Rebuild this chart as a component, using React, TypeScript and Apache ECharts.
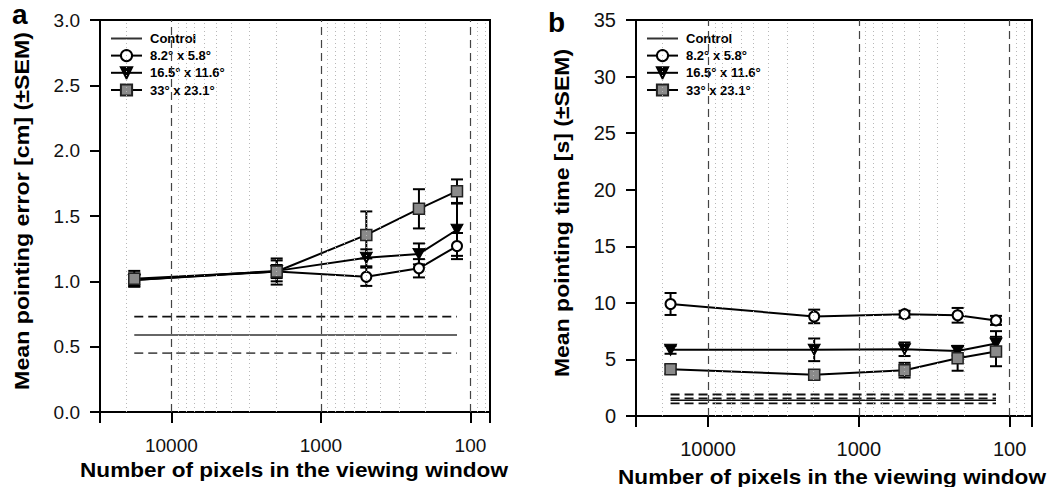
import React, { useEffect, useRef } from 'react';
import * as echarts from 'echarts';

// ---------- data ----------
const pixelCounts = [17700, 1975, 497, 221, 123];
const seriesNames = ['Control', '8.2° x 5.8°', '16.5° x 11.6°', '33° x 23.1°'];

// Panel a: mean pointing error [cm]
const errSmallMean = [1.01, 1.075, 1.035, 1.1, 1.27];
const errSmallSem = [0.05, 0.05, 0.07, 0.07, 0.1];
const errMidMean = [1.01, 1.08, 1.18, 1.21, 1.395];
const errMidSem = [0.04, 0.08, 0.065, 0.08, 0.2];
const errLargeMean = [1.02, 1.075, 1.355, 1.555, 1.69];
const errLargeSem = [0.06, 0.1, 0.18, 0.15, 0.09];
const errControl = 0.59;
const errControlDashed = [0.73, 0.45];

// Panel b: mean pointing time [s]
const timeSmallMean = [9.9, 8.8, 9.0, 8.9, 8.45];
const timeSmallSem = [0.97, 0.6, 0.3, 0.65, 0.4];
const timeMidMean = [5.85, 5.85, 5.9, 5.75, 6.4];
const timeMidSem = [0.35, 1.0, 0.6, 0.4, 1.1];
const timeLargeMean = [4.13, 3.65, 4.05, 5.1, 5.7];
const timeLargeSem = [0.4, 0.4, 0.65, 1.1, 1.3];
const timeControl = 1.39;
const timeControlDashed = [1.9, 1.55, 1.12];

const majorTicks = [10000, 1000, 100];
const minorTicks = [20000, 9000, 8000, 7000, 6000, 5000, 4000, 3000, 2000, 900, 800, 700, 600, 500, 400, 300, 200, 90, 80];

const FONT = '"Liberation Sans", Arial, Helvetica, sans-serif';

function isPow10(v: number) {
  const l = Math.log10(v);
  return Math.abs(l - Math.round(l)) < 1e-6;
}

function errorBarSeries(name: string, gi: number, mean: number[], sem: number[]) {
  return {
    type: 'custom',
    name,
    xAxisIndex: gi,
    yAxisIndex: gi,
    z: 3,
    silent: true,
    data: pixelCounts.map((p, k) => [p, mean[k], sem[k]]),
    encode: { x: 0, y: 1 },
    renderItem: (params: any, api: any) => {
      const x = api.value(0);
      const y = api.value(1);
      const e = api.value(2);
      const hi = api.coord([x, y + e]);
      const lo = api.coord([x, y - e]);
      const w = 6;
      const style = { stroke: '#000', lineWidth: 2 };
      return {
        type: 'group',
        children: [
          { type: 'line', shape: { x1: hi[0], y1: hi[1], x2: lo[0], y2: lo[1] }, style },
          { type: 'line', shape: { x1: hi[0] - w, y1: hi[1], x2: hi[0] + w, y2: hi[1] }, style },
          { type: 'line', shape: { x1: lo[0] - w, y1: lo[1], x2: lo[0] + w, y2: lo[1] }, style },
        ],
      };
    },
  };
}

const symbolStyles = [
  { symbol: 'circle', symbolSize: 10, itemStyle: { color: '#fff', borderColor: '#000', borderWidth: 2 } },
  { symbol: 'path://M0,0 L10,0 L5,9 Z', symbolSize: [12, 11], itemStyle: { color: '#000', borderColor: '#000', borderWidth: 1 } },
  { symbol: 'rect', symbolSize: 11, itemStyle: { color: '#8a8a8a', borderColor: '#222', borderWidth: 1.5 } },
];

function dataSeries(idx: number, gi: number, mean: number[]) {
  const s = symbolStyles[idx];
  return {
    type: 'line',
    name: seriesNames[idx + 1],
    xAxisIndex: gi,
    yAxisIndex: gi,
    z: 4,
    data: pixelCounts.map((p, k) => [p, mean[k]]),
    symbol: s.symbol,
    symbolSize: s.symbolSize,
    showAllSymbol: true,
    itemStyle: s.itemStyle,
    lineStyle: { color: '#000', width: 2 },
    emphasis: { disabled: true },
  };
}

function controlSeries(gi: number, value: number, color: string) {
  return {
    type: 'line',
    name: 'Control',
    xAxisIndex: gi,
    yAxisIndex: gi,
    z: 2,
    data: [[pixelCounts[0], value], [pixelCounts[pixelCounts.length - 1], value]],
    symbol: 'none',
    itemStyle: { color: '#000' },
    lineStyle: { color, width: 1.5 },
    emphasis: { disabled: true },
    markLine: {
      silent: true,
      symbol: 'none',
      label: { show: false },
      animation: false,
      data: [
        ...minorTicks.map((v) => ({ xAxis: v, lineStyle: { color: '#b8b8b8', width: 1, type: [1, 3] } })),
        ...majorTicks.map((v) => ({ xAxis: v, lineStyle: { color: '#444', width: 1.2, type: [8, 5] } })),
      ],
    },
  };
}

function dashedControl(gi: number, value: number, k: number, color: string) {
  return {
    type: 'line',
    name: 'ctrl-dash-' + gi + '-' + k,
    xAxisIndex: gi,
    yAxisIndex: gi,
    z: 2,
    data: [[pixelCounts[0], value], [pixelCounts[pixelCounts.length - 1], value]],
    symbol: 'none',
    lineStyle: { color, width: 1.8, type: [9, 5] },
    emphasis: { disabled: true },
  };
}

function xAxis(gi: number, min: number, fontSize: number, margin: number) {
  return {
    type: 'log',
    logBase: 10,
    gridIndex: gi,
    inverse: true,
    min,
    max: 30000,
    axisLine: { show: true, lineStyle: { color: '#000', width: 2 } },
    axisTick: { show: true, inside: false, length: 11, lineStyle: { color: '#000', width: 2 } },
    axisLabel: {
      margin,
      fontSize,
      color: '#111',
      fontFamily: FONT,
      showMinLabel: true,
      showMaxLabel: true,
      formatter: (v: number) => (isPow10(v) ? String(Math.round(v)) : ''),
    },
    splitLine: { show: false },
    minorTick: { show: false },
  };
}

function yAxis(gi: number, max: number, interval: number, fontSize: number, digits: number) {
  return {
    type: 'value',
    gridIndex: gi,
    min: 0,
    max,
    interval,
    axisLine: { show: true, lineStyle: { color: '#000', width: 2 } },
    axisTick: { show: true, inside: false, length: 10, lineStyle: { color: '#000', width: 2 } },
    axisLabel: {
      margin: 20,
      fontSize,
      color: '#111',
      fontFamily: FONT,
      formatter: (v: number) => v.toFixed(digits),
    },
    splitLine: { show: false },
  };
}

function legend(gi: number, left: number) {
  return {
    show: true,
    orient: 'vertical',
    left,
    top: 32,
    itemWidth: 31,
    itemHeight: 14,
    itemGap: 4,
    padding: 0,
    data: [
      { name: seriesNames[0], itemStyle: { opacity: 0 } },
      seriesNames[1],
      seriesNames[2],
      seriesNames[3],
    ],
    selectedMode: false,
    textStyle: { fontSize: 13, fontWeight: 'bold', color: '#000', fontFamily: FONT, padding: [0, 0, 0, 3] },
  };
}

function titleText(text: string, x: number, y: number, scaleX: number, rotate: boolean) {
  return {
    type: 'text',
    x,
    y,
    rotation: rotate ? Math.PI / 2 : 0,
    scaleX,
    silent: true,
    style: {
      text,
      font: 'bold 20px ' + FONT,
      fill: '#000',
      textAlign: 'center',
      textVerticalAlign: 'middle',
    },
  };
}

export default function App() {
  const ref = useRef<HTMLDivElement>(null);
  useEffect(() => {
    if (!ref.current) return;
    const chart = echarts.init(ref.current, undefined, { renderer: 'svg' });
    const option: any = {
      animation: false,
      backgroundColor: '#fff',
      grid: [
        { left: 100, top: 20, width: 390, height: 392, show: true, borderColor: '#000', borderWidth: 2, backgroundColor: 'transparent' },
        { left: 636, top: 20, width: 396, height: 396, show: true, borderColor: '#000', borderWidth: 2, backgroundColor: 'transparent' },
      ],
      xAxis: [xAxis(0, 74, 19, 24), xAxis(1, 71, 20, 23)],
      yAxis: [yAxis(0, 3, 0.5, 19, 1), yAxis(1, 35, 5, 20, 0)],
      legend: [legend(0, 110), legend(1, 646)],
      series: [
        controlSeries(0, errControl, '#333'),
        dashedControl(0, errControlDashed[0], 0, '#111'),
        dashedControl(0, errControlDashed[1], 1, '#555'),
        errorBarSeries('eb-a-small', 0, errSmallMean, errSmallSem),
        errorBarSeries('eb-a-mid', 0, errMidMean, errMidSem),
        errorBarSeries('eb-a-large', 0, errLargeMean, errLargeSem),
        dataSeries(0, 0, errSmallMean),
        dataSeries(1, 0, errMidMean),
        dataSeries(2, 0, errLargeMean),

        controlSeries(1, timeControl, '#111'),
        dashedControl(1, timeControlDashed[0], 0, '#111'),
        dashedControl(1, timeControlDashed[1], 1, '#111'),
        dashedControl(1, timeControlDashed[2], 2, '#111'),
        errorBarSeries('eb-b-small', 1, timeSmallMean, timeSmallSem),
        errorBarSeries('eb-b-mid', 1, timeMidMean, timeMidSem),
        errorBarSeries('eb-b-large', 1, timeLargeMean, timeLargeSem),
        dataSeries(0, 1, timeSmallMean),
        dataSeries(1, 1, timeMidMean),
        dataSeries(2, 1, timeLargeMean),
      ],
      graphic: [
        { type: 'text', x: 12, y: 28, silent: true, style: { text: 'a', font: 'bold 28px ' + FONT, fill: '#000', textAlign: 'left', textVerticalAlign: 'bottom' } },
        { type: 'text', x: 548, y: 36, silent: true, style: { text: 'b', font: 'bold 28px ' + FONT, fill: '#000', textAlign: 'left', textVerticalAlign: 'bottom' } },
        titleText('Mean pointing error [cm] (±SEM)', 22.5, 211, 1.16, true),
        titleText('Mean pointing time [s] (±SEM)', 562.5, 213, 1.15, true),
        titleText('Number of pixels in the viewing window', 294, 470, 1.13, false),
        titleText('Number of pixels in the viewing window', 832, 477, 1.13, false),
      ],
    };
    chart.setOption(option);
    return () => chart.dispose();
  }, []);
  return (
    <div
      ref={ref}
      style={{ position: 'fixed', left: 0, top: 0, width: 1051, height: 487, background: '#fff' }}
    />
  );
}
